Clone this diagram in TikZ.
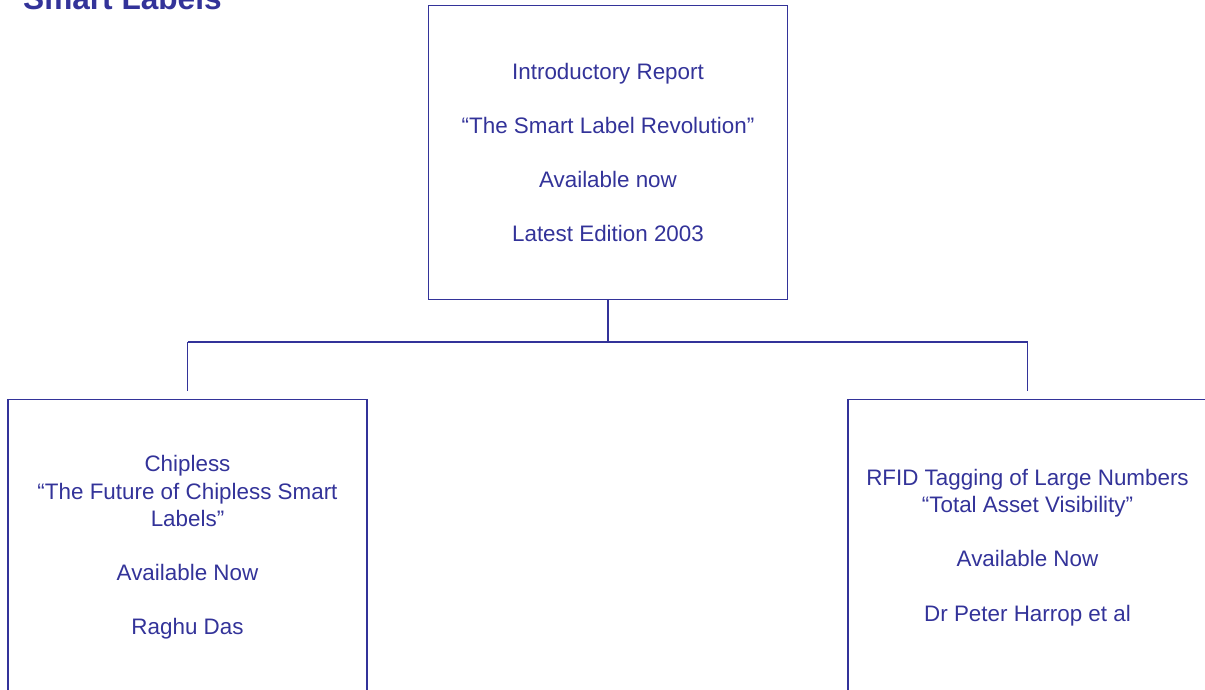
\documentclass[tikz,border=0pt]{standalone}
\usepackage{fontspec}
\setmainfont{Liberation Sans}
\definecolor{navy}{RGB}{51,51,153}
\begin{document}
\begin{tikzpicture}[x=1pt,y=-1pt,
  box/.style={draw=navy,line width=1.2pt,rectangle,minimum width=359pt,inner sep=0pt,
    align=center,text=navy,font=\fontsize{22.4}{27.1}\selectfont},
  conn/.style={draw=navy,line width=1.2pt},
  title/.style={text=navy,font=\fontsize{31.6}{36}\selectfont\bfseries,inner sep=0pt,anchor=base west}]
\useasboundingbox (0,0) rectangle (1205,690);
\node[title] (ttl) at (23,9.5) {Smart Labels};
\node[box,minimum height=294pt] (top) at (608,152.5)
  {Introductory Report\\[27.1pt]“The Smart Label Revolution”\\[27.1pt]Available now\\[27.1pt]Latest Edition 2003};
\node[box,minimum height=296pt] (left) at (187.5,547.5)
  {Chipless\\“The Future of Chipless Smart\\Labels”\\[27.1pt]Available Now\\[27.1pt]Raghu Das};
\node[box,minimum height=296pt] (right) at (1027.5,547.5)
  {RFID Tagging of Large Numbers\\“Total Asset Visibility”\\[27.1pt]Available Now\\[27.1pt]Dr Peter Harrop et al};
\coordinate (j) at (608,342);
\coordinate (jl) at (left.north |- j);
\coordinate (jr) at (right.north |- j);
\draw[conn] (top.south) -- (j);
\draw[conn] (jl) -- (jr);
\draw[conn,shorten >=7.5pt] (jl) -- (left.north);
\draw[conn,shorten >=7.5pt] (jr) -- (right.north);
\end{tikzpicture}
\end{document}
